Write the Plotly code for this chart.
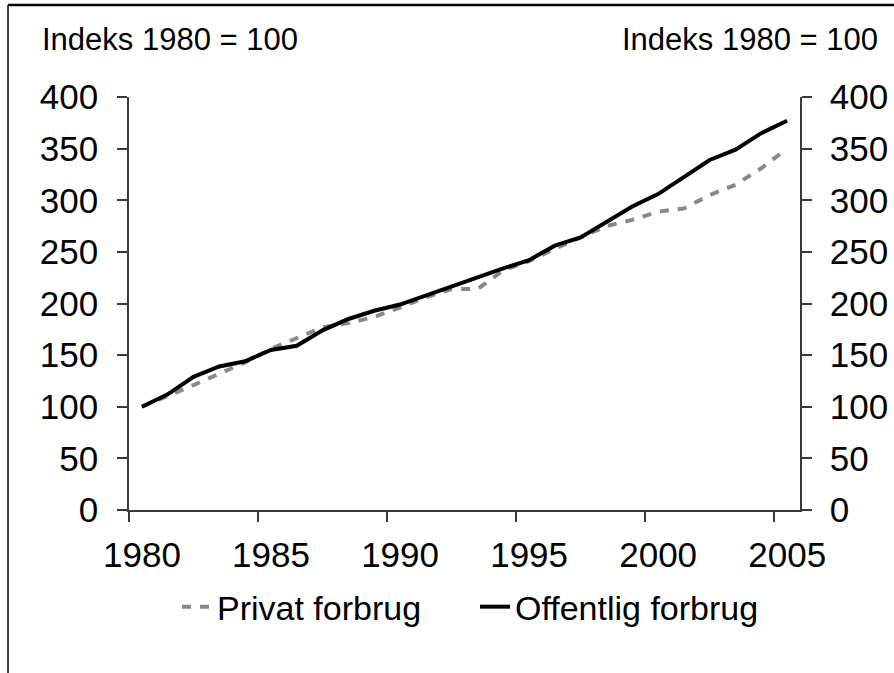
import plotly.graph_objects as go

years = list(range(1980, 2006))
privat = [100, 110, 121, 132, 143, 156, 167, 177, 181, 187, 196, 206, 214, 214,
          232, 241, 253, 264, 275, 281, 289, 292, 305, 315, 331, 350]
offentlig = [100, 112, 129, 139, 144, 155, 159, 174, 185, 193, 199, 208, 216, 226,
             234, 242, 256, 264, 279, 294, 306, 323, 339, 349, 365, 377]

tick_pos = [1979.5, 1984.5, 1989.5, 1994.5, 1999.5, 2004.5]
tick_text = ["1980", "1985", "1990", "1995", "2000", "2005"]
y_ticks = [0, 50, 100, 150, 200, 250, 300, 350, 400]
unit_label = "Indeks 1980 = 100"

FONT = "Liberation Sans, Arial, sans-serif"
AX = "#3a3a3a"
TICKFS = 35

fig = go.Figure()
fig.add_trace(go.Scatter(x=years, y=privat, name="Privat forbrug", mode="lines",
                         line=dict(color="#888888", width=4, dash="9px,9px")))
fig.add_trace(go.Scatter(x=years, y=offentlig, name="Offentlig forbrug", mode="lines",
                         yaxis="y2", line=dict(color="black", width=4)))

fig.update_layout(
    width=894, height=673,
    margin=dict(l=129, r=94, t=97, b=163, autoexpand=False),
    paper_bgcolor="white", plot_bgcolor="white",
    font=dict(family=FONT, size=34, color="black"),
    xaxis=dict(range=[1979.5, 2005.5], tickmode="array", tickvals=tick_pos,
               ticktext=tick_text, ticks="outside", ticklen=10, tickwidth=1.5,
               tickcolor=AX, showline=True, linecolor=AX, linewidth=1.5,
               showgrid=False, zeroline=False, ticklabelshift=13,
               ticklabelstandoff=3, tickfont=dict(size=TICKFS), automargin=False),
    yaxis=dict(range=[0, 400], tickvals=y_ticks, ticks="outside", ticklen=10,
               tickwidth=1.5, tickcolor=AX, showline=True, linecolor=AX,
               linewidth=1.5, showgrid=False, zeroline=False,
               ticklabelstandoff=12, tickfont=dict(size=TICKFS), automargin=False),
    yaxis2=dict(range=[0, 400], tickvals=y_ticks, ticks="outside", ticklen=10,
                tickwidth=1.5, tickcolor=AX, showline=True, linecolor=AX,
                linewidth=1.5, showgrid=False, zeroline=False, overlaying="y",
                side="right", ticklabelstandoff=11, tickfont=dict(size=TICKFS),
                automargin=False),
    legend=dict(orientation="h", x=0.0715, xanchor="left", y=-0.235,
                yanchor="middle", font=dict(size=34), bgcolor="rgba(0,0,0,0)",
                entrywidth=253, entrywidthmode="pixels", tracegroupgap=0),
    showlegend=True,
)

fig.add_annotation(text=unit_label, xref="paper", yref="paper", x=-0.132, y=1.14,
                   xanchor="left", yanchor="middle", showarrow=False,
                   font=dict(size=31))
fig.add_annotation(text=unit_label, xref="paper", yref="paper", x=1.119, y=1.14,
                   xanchor="right", yanchor="middle", showarrow=False,
                   font=dict(size=31))

# frame lines (top and left border of the figure box)
fig.add_shape(type="line", xref="paper", yref="paper", x0=-0.1803, x1=1.2,
              y0=1.2228, y1=1.2228, line=dict(color="black", width=2.5))
fig.add_shape(type="line", xref="paper", yref="paper", x0=-0.1803, x1=-0.1803,
              y0=1.2228, y1=-0.45, line=dict(color="black", width=1.5))

fig.write_html("out.html", config={"displayModeBar": False},
               post_script="document.body.style.margin='0';document.body.style.overflow='hidden';")
